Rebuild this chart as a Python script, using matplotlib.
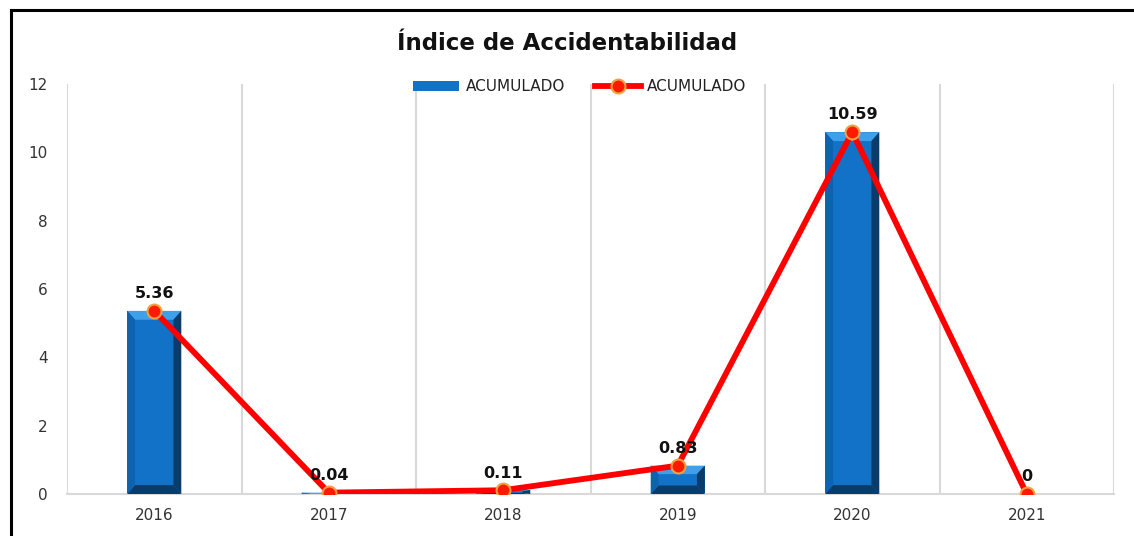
import matplotlib
matplotlib.use("Agg")
import matplotlib.pyplot as plt
from matplotlib.patches import Polygon
from matplotlib.lines import Line2D

plt.rcParams["font.family"] = ["DejaVu Sans"]

years = ["2016", "2017", "2018", "2019", "2020", "2021"]
bar_values = [5.36, 0.04, 0.11, 0.83, 10.59, 0.0]
line_values = [5.36, 0.04, 0.11, 0.83, 10.59, 0.0]
labels = ["5.36", "0.04", "0.11", "0.83", "10.59", "0"]
yticks = [0, 2, 4, 6, 8, 10, 12]

W, H = 1134, 536
fig = plt.figure(figsize=(W / 100, H / 100), dpi=100)
fig.patch.set_facecolor("white")
ax = fig.add_axes([67 / W, 1 - 494 / H, (1114 - 67) / W, (494 - 84) / H])

x = list(range(len(years)))
bw = 0.31
main_c = "#1272C8"
light_c = "#3FA0EA"
dark_c = "#0A3C6A"
mid_c = "#0E62AE"

bars = ax.bar(x, bar_values, width=bw, color=main_c, zorder=2, label="ACUMULADO", linewidth=0)

# bevel decoration
bx = 0.045
by = 0.26
for xi, v in zip(x, bar_values):
    if v <= 0:
        continue
    x0, x1 = xi - bw / 2, xi + bw / 2
    b_y = min(by, v * 0.3)
    b_x = bx
    ax.add_patch(Polygon([[x0, v], [x1, v], [x1 - b_x, v - b_y], [x0 + b_x, v - b_y]],
                         closed=True, color=light_c, lw=0, zorder=3))
    ax.add_patch(Polygon([[x1, v], [x1, 0], [x1 - b_x, b_y], [x1 - b_x, v - b_y]],
                         closed=True, color=dark_c, lw=0, zorder=3))
    ax.add_patch(Polygon([[x0, 0], [x1, 0], [x1 - b_x, b_y], [x0 + b_x, b_y]],
                         closed=True, color=dark_c, lw=0, zorder=3))
    ax.add_patch(Polygon([[x0, 0], [x0, v], [x0 + b_x, v - b_y], [x0 + b_x, b_y]],
                         closed=True, color=mid_c, lw=0, zorder=3))

line, = ax.plot(x, line_values, color="#FF0000", lw=4.2, marker="o", markersize=10,
                markerfacecolor="#FF1A00", markeredgecolor="#F5A040", markeredgewidth=1.5,
                zorder=5, label="ACUMULADO", solid_joinstyle="round")

for xi, v, t in zip(x, line_values, labels):
    ax.annotate(t, (xi, v), xytext=(0, 7), textcoords="offset points",
                ha="center", va="bottom", fontsize=11.5, fontweight="bold",
                color="#111111", zorder=6)

ax.set_xlim(-0.5, len(years) - 0.5)
ax.set_ylim(0, 12)
ax.set_yticks(yticks)
ax.set_yticklabels([str(t) for t in yticks])
ax.set_xticks(x)
ax.set_xticklabels(years)
ax.tick_params(axis="both", length=0, labelsize=11, colors="#333333")
ax.tick_params(axis="y", pad=14)
ax.tick_params(axis="x", pad=10)

ax.set_xticks([i - 0.5 for i in range(len(years) + 1)], minor=True)
ax.grid(which="minor", axis="x", color="#D9D9D9", lw=1.5, zorder=0)
ax.tick_params(which="minor", length=0)
for s in ["top", "left", "right"]:
    ax.spines[s].set_visible(False)
ax.spines["bottom"].set_color("#D9D9D9")
ax.spines["bottom"].set_linewidth(1.5)

leg = ax.legend([bars, line], ["ACUMULADO", "ACUMULADO"], loc="upper center",
                bbox_to_anchor=(0.49, 1.045), ncol=2, frameon=False,
                fontsize=11, handlelength=3.0, columnspacing=2.0, handletextpad=0.4)
for t in leg.get_texts():
    t.set_color("#222222")

fig.text(0.5, 1 - 43 / H, "Índice de Accidentabilidad", ha="center", va="center",
         fontsize=16.5, fontweight="bold", color="#111111")

fig.add_artist(Line2D([11 / W, 11 / W], [0, 1 - 10 / H], color="black", lw=2.2,
                      transform=fig.transFigure))
fig.add_artist(Line2D([11 / W, 1], [1 - 10 / H, 1 - 10 / H], color="black", lw=2.2,
                      transform=fig.transFigure))

fig.savefig("out.png", dpi=100, facecolor="white")
